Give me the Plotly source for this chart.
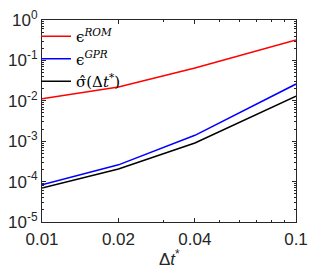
import plotly.graph_objects as go

dt = [0.01, 0.02, 0.04, 0.1]
eps_rom = [0.0112, 0.022, 0.065, 0.32]
eps_gpr = [8.3e-5, 2.6e-4, 1.4e-3, 0.026]
sigma_hat = [6.9e-5, 2.05e-4, 9.0e-4, 0.013]

x_ticks = [0.01, 0.02, 0.04, 0.1]
x_labels = ["0.01", "0.02", "0.04", "0.1"]
y_ticks = [1e-5, 1e-4, 1e-3, 1e-2, 1e-1, 1]
y_labels = ["10<sup>-5</sup>", "10<sup>-4</sup>", "10<sup>-3</sup>", "10<sup>-2</sup>", "10<sup>-1</sup>", "10<sup>0</sup>"]

x_minor = [0.03, 0.05, 0.06, 0.07, 0.08, 0.09]
y_minor = [m * 10.0**e for e in range(-5, 0) for m in range(2, 10)]

SERIF = "DejaVu Serif, Liberation Serif, serif"
SANS = "Liberation Sans, Arial, sans-serif"

fig = go.Figure()
fig.add_trace(go.Scatter(x=dt, y=eps_rom, mode="lines", line=dict(color="#ff0000", width=1.5),
                         name="ϵ<sup><i>ROM</i></sup>"))
fig.add_trace(go.Scatter(x=dt, y=eps_gpr, mode="lines", line=dict(color="#0000ff", width=1.5),
                         name="ϵ<sup><i>GPR</i></sup>"))
fig.add_trace(go.Scatter(x=dt, y=sigma_hat, mode="lines", line=dict(color="#000000", width=1.5),
                         name="σ̂(Δ<i>t</i><sup>*</sup>)"))

axis_common = dict(showline=True, linecolor="#262626", linewidth=1, mirror="allticks",
                   ticks="inside", ticklen=4, tickcolor="#262626", showgrid=False, zeroline=False,
                   automargin=False,
                   tickfont=dict(size=17, color="#262626", family=SANS))

fig.update_xaxes(type="log", range=[-2, -1], tickmode="array", tickvals=x_ticks, ticktext=x_labels,
                 ticklabelstandoff=2,
                 minor=dict(tickmode="array", tickvals=x_minor, ticks="inside", ticklen=2, tickcolor="#262626"),
                 **axis_common)
fig.update_yaxes(type="log", range=[-5, 0], tickmode="array", tickvals=y_ticks, ticktext=y_labels,
                 minor=dict(tickmode="array", tickvals=y_minor, ticks="inside", ticklen=2, tickcolor="#262626"),
                 **axis_common)

fig.add_annotation(text="Δ<i>t</i><sup>*</sup>", x=0.5, y=0, xref="paper", yref="paper",
                   yshift=-36, yanchor="middle", showarrow=False,
                   font=dict(size=17, color="#262626", family=SANS))

fig.update_layout(
    template="none",
    width=327, height=268,
    margin=dict(l=42, r=31, t=20, b=46, autoexpand=False),
    paper_bgcolor="white", plot_bgcolor="white",
    font=dict(family=SANS, size=17, color="#262626"),
    showlegend=True,
    legend=dict(x=36 / 327, y=1 - 20 / 268, xref="container", yref="container",
                xanchor="left", yanchor="top", bgcolor="rgba(0,0,0,0)",
                font=dict(size=15, color="black", family=SERIF), tracegroupgap=0, itemwidth=30),
)

fig.write_html("out.html", config={"displayModeBar": False},
               post_script="document.body.style.margin='0';document.body.style.overflow='hidden';")
